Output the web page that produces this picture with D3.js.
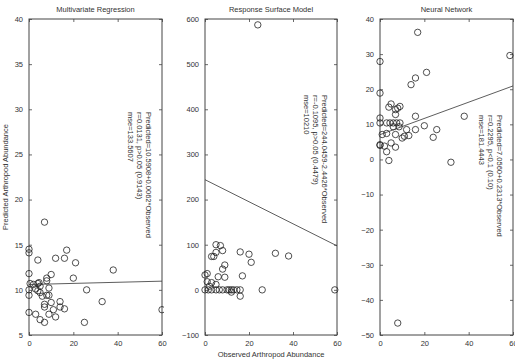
<!DOCTYPE html>
<html>
<head>
<meta charset="utf-8">
<script src="https://cdn.jsdelivr.net/npm/d3@7"></script>
<style>
  body { margin: 0; background: #fff; }
  text { font-family: "Liberation Sans", Arial, sans-serif; fill: #333; }
</style>
</head>
<body>
<svg id="chart"></svg>
<script>
// Panel titles and annotation text
var titles = ["Multivariate Regression", "Response Surface Model", "Neural Network"];
var notes1 = ["Predicted=10.5908+0.0062*Observed", "r=0.0131, p>0.05 (0.9143)", "mse=133.5607"];
var notes2 = ["Predicted=244.0459-2.4426*Observed", "r=-0.1095, p>0.05 (0.4479)", "mse=10210"];
var notes3 = ["Predicted=7.0560+0.2313*Observed", "r=0.2295, p<0.1 (0.10)", "mse=181.4443"];

// Fit lines: intercept, slope
var fit1 = [10.5908, 0.0062];
var fit2 = [244.0459, -2.4426];
var fit3 = [7.0560, 0.2313];

// Tick labels
var xTicks = [0, 20, 40, 60];
var yTicks1 = [5, 10, 15, 20, 25, 30, 35, 40];
var yTicks2 = [-100, 0, 100, 200, 300, 400, 500, 600];
var yTicks3 = [-50, -40, -30, -20, -10, 0, 10, 20, 30, 40];

// Multivariate regression: observed / predicted
var obs1 = [7, 0, 0, 4, 17, 12, 16, 21, 0, 10, 38, 20, 8, 8, 26, 33, 60,
            0.5, 2, 4, 5, 4.5, 0, 3, 4, 5, 9, 0, 6, 8, 9, 7, 7, 10, 14, 14, 16, 11, 9, 12, 0, 3, 5, 7, 25];
var pred1 = [17.5, 14.5, 14.1, 13.3, 14.4, 13.5, 13.5, 13.0, 11.8, 11.7, 12.2, 11.3, 11.3, 11.0, 10.0, 8.7, 7.8,
             10.7, 10.6, 10.7, 10.4, 10.8, 10.0, 10.1, 9.9, 9.7, 10.2, 9.4, 9.3, 9.4, 9.4, 8.4, 8.1, 8.6, 8.7, 8.1, 7.9, 7.8, 7.3, 7.0, 7.5, 7.3, 6.7, 6.4, 6.4];

// Response surface model: observed / predicted
var obs2 = [24, 5, 7, 5, 8, 3, 4, 16, 20, 21, 32, 38, 9, 8, 0, 1, 6, 9, 17, 1, 3, 2, 5,
            0, 1.5, 3, 5, 6.5, 8, 10, 11, 12, 13, 14.5, 16, 26, 59, 12, 16];
var pred2 = [587, 100, 98, 83, 87, 74, 74, 84, 79, 61, 81, 75, 55, 46, 33, 36, 29, 28, 31, 18, 16, 8, 12,
             0, 0, 0, 0, 0, 0, 0, 0, 0, 0, 0, 0, 0, 0, -5, -14];

// Neural network: observed / predicted
var obs3 = [17, 58.6, 0, 21, 16, 14, 0, 5, 4, 9, 7, 8, 7, 16, 38, 0,
            0, 3, 4.5, 6, 7.5, 9, 6, 8.6, 12, 20, 25.6, 1, 3, 7, 11, 13, 10, 16, 24, 0, 5, 2, 7, 3, 4, 32, 0, 8];
var pred3 = [36.2, 29.6, 27.9, 24.8, 23.2, 21.3, 18.9, 15.8, 14.9, 15.1, 14.2, 14.6, 12.8, 12.3, 12.3, 11.8,
             10.4, 10.4, 10.4, 10.4, 10.4, 10.4, 9.3, 9.3, 8.5, 9.6, 8.5, 7.1, 7.4, 7.1, 6.6, 6.8, 6.1, 8.5, 6.3, 4.2, 4.7, 3.8, 3.5, 2.2, -0.3, -0.8, 4.0, -46.6];

var width = 515, height = 361;
var plotTop = 19, plotBottom = 335;

var svg = d3.select("#chart")
  .attr("width", width)
  .attr("height", height);

var panels = [
  {left: 29, right: 162, yd: [5, 40], yt: yTicks1, obs: obs1, pred: pred1, fit: fit1, notes: notes1, noteX: 146, noteY: 112},
  {left: 205, right: 337, yd: [-100, 600], yt: yTicks2, obs: obs2, pred: pred2, fit: fit2, notes: notes2, noteX: 322, noteY: 95},
  {left: 380, right: 513, yd: [-50, 40], yt: yTicks3, obs: obs3, pred: pred3, fit: fit3, notes: notes3, noteX: 497, noteY: 115}
];

panels.forEach(function(p, i) {
  var x = d3.scaleLinear().domain([0, 60]).range([p.left, p.right]);
  var y = d3.scaleLinear().domain(p.yd).range([plotBottom, plotTop]);
  var g = svg.append("g");

  // axes with inward ticks on all four sides
  var styleAxis = function(sel) {
    sel.selectAll(".domain").remove();
    sel.selectAll("line").attr("stroke", "#444").attr("stroke-width", 0.8);
    sel.selectAll("text").style("font-size", "7.5px").attr("fill", "#333");
  };
  g.append("g").attr("transform", "translate(0," + plotBottom + ")")
    .call(d3.axisBottom(x).tickValues(xTicks).tickSizeInner(-3).tickPadding(6).tickFormat(d3.format("d")))
    .call(styleAxis);
  g.append("g").attr("transform", "translate(0," + plotTop + ")")
    .call(d3.axisTop(x).tickValues(xTicks).tickSizeInner(-3).tickFormat(""))
    .call(styleAxis);
  g.append("g").attr("transform", "translate(" + p.left + ",0)")
    .call(d3.axisLeft(y).tickValues(p.yt).tickSizeInner(-3).tickPadding(6).tickFormat(d3.format("d")))
    .call(styleAxis);
  g.append("g").attr("transform", "translate(" + p.right + ",0)")
    .call(d3.axisRight(y).tickValues(p.yt).tickSizeInner(-3).tickFormat(""))
    .call(styleAxis);

  // frame
  g.append("rect")
    .attr("x", p.left).attr("y", plotTop)
    .attr("width", p.right - p.left).attr("height", plotBottom - plotTop)
    .attr("fill", "none").attr("stroke", "#444").attr("stroke-width", 1);

  // points
  var clipId = "clip" + i;
  svg.append("clipPath").attr("id", clipId).append("rect")
    .attr("x", p.left - 4).attr("y", plotTop - 4)
    .attr("width", p.right - p.left + 6).attr("height", plotBottom - plotTop + 8);

  g.append("g").attr("clip-path", "url(#" + clipId + ")")
    .selectAll("circle")
    .data(p.obs.map(function(o, k) { return {x: o, y: p.pred[k]}; }))
    .enter().append("circle")
    .attr("cx", function(d) { return x(d.x); })
    .attr("cy", function(d) { return y(d.y); })
    .attr("r", 3.2)
    .attr("fill", "none")
    .attr("stroke", "#222")
    .attr("stroke-width", 0.8);

  // fit line
  g.append("line")
    .attr("x1", x(0)).attr("y1", y(p.fit[0]))
    .attr("x2", x(60)).attr("y2", y(p.fit[0] + p.fit[1] * 60))
    .attr("stroke", "#333").attr("stroke-width", 0.8);

  // title
  g.append("text")
    .attr("x", (p.left + p.right) / 2).attr("y", 12)
    .attr("text-anchor", "middle")
    .style("font-size", "7.5px")
    .text(titles[i]);

  // rotated annotation
  p.notes.forEach(function(t, k) {
    g.append("text")
      .attr("transform", "translate(" + (p.noteX - k * 9) + "," + p.noteY + ") rotate(90)")
      .style("font-size", "7.5px")
      .text(t);
  });
});

// axis labels
svg.append("text")
  .attr("transform", "translate(8,177) rotate(-90)")
  .attr("text-anchor", "middle")
  .style("font-size", "7.5px")
  .text("Predicted Arthropod Abundance");

svg.append("text")
  .attr("x", 271).attr("y", 357)
  .attr("text-anchor", "middle")
  .style("font-size", "7.5px")
  .text("Observed Arthropod Abundance");
</script>
</body>
</html>
